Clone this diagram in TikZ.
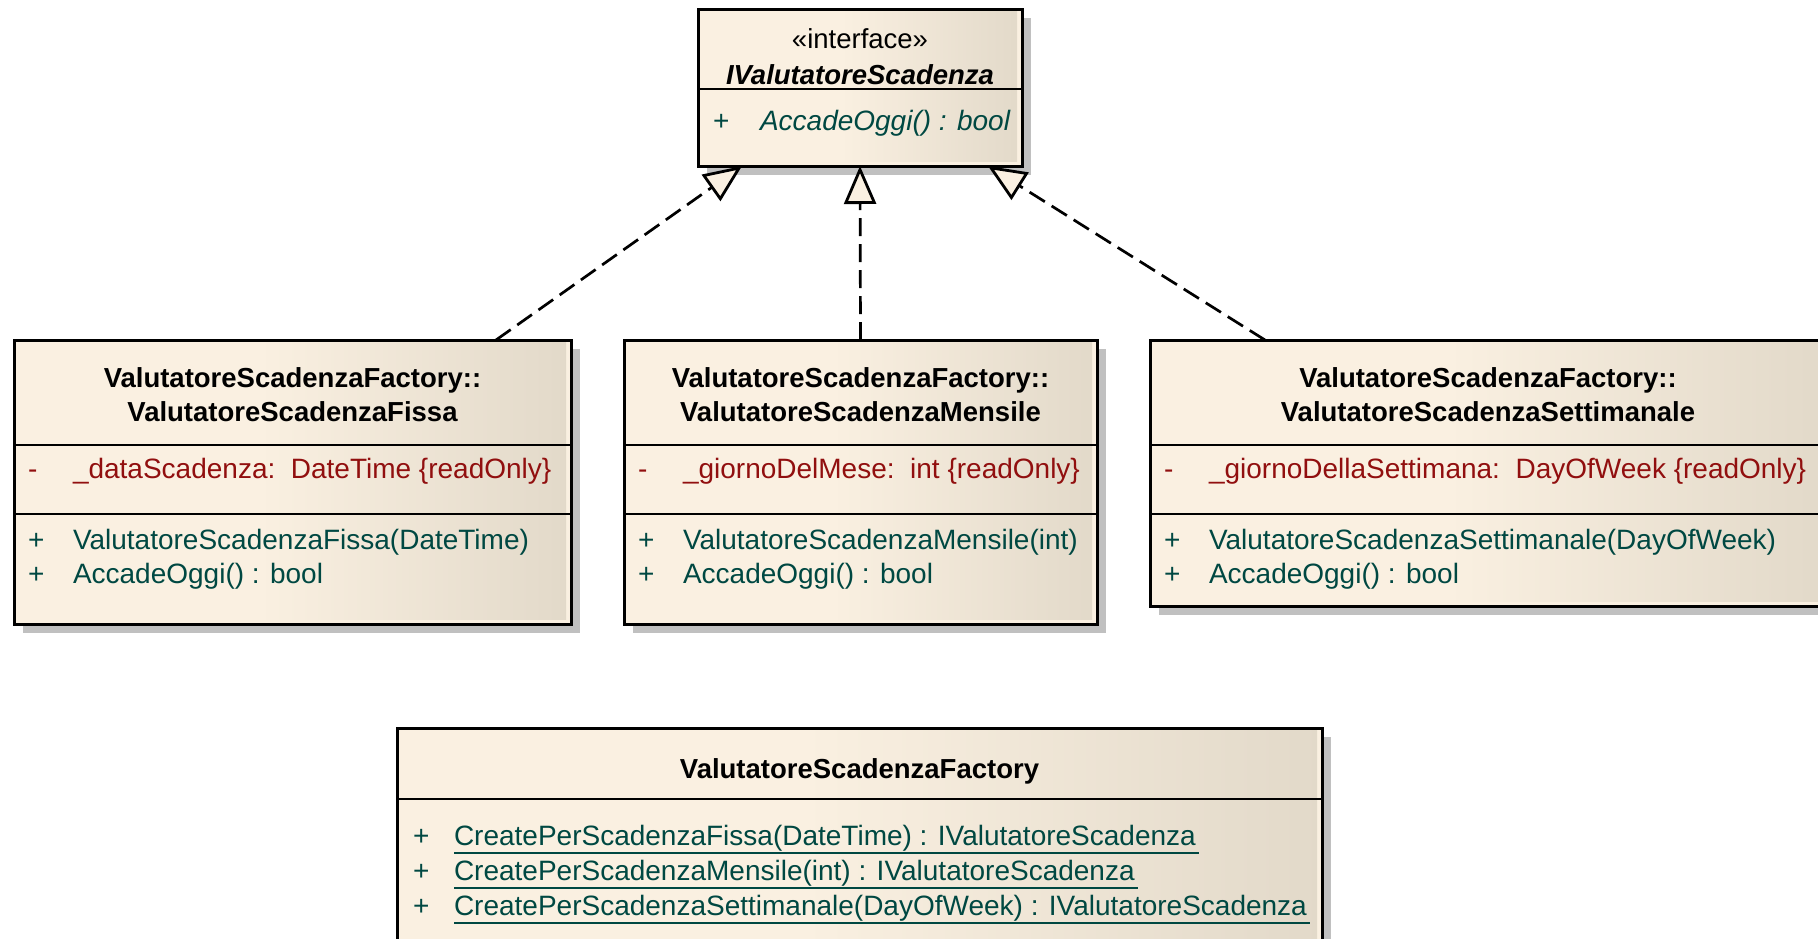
\documentclass[tikz,border=0pt]{standalone}
\usepackage{fontspec}
\setmainfont{Liberation Sans}
\usetikzlibrary{arrows.meta,shadows}

\definecolor{umlA}{RGB}{250,240,225}
\definecolor{umlB}{RGB}{226,217,201}
\definecolor{umlshadow}{RGB}{192,192,192}
\definecolor{attrred}{RGB}{145,15,15}
\definecolor{opteal}{RGB}{0,72,66}

% light cream on the left half, darkening towards the right edge
\pgfdeclarehorizontalshading{umlfill}{100bp}{color(0bp)=(umlA); color(25bp)=(umlA); color(47bp)=(umlA); color(75bp)=(umlB); color(100bp)=(umlB)}

\tikzset{
  classbox/.style={draw=black, line width=3pt, fill=umlA, rectangle, inner sep=0pt, outer sep=0pt, anchor=north west,
    drop shadow={shadow xshift=8.5pt, shadow yshift=-8.5pt, fill=umlshadow, opacity=1},
    path picture={\shade[shading=umlfill] ([xshift=1pt,yshift=-1pt]path picture bounding box.north west) rectangle ([xshift=-5pt,yshift=5pt]path picture bounding box.south east);}},
  divider/.style={draw=black, line width=2.8pt},
  txt/.style={inner sep=0pt, outer sep=0pt, anchor=base west, font=\fontsize{28}{33}\selectfont},
  ttl/.style={inner sep=0pt, outer sep=0pt, anchor=base, font=\fontsize{27.5}{33}\selectfont\bfseries},
  attr/.style={txt, text=attrred},
  oper/.style={txt, text=opteal},
  uline/.style={draw=opteal, line width=2.4pt},
  realize/.style={draw=black, line width=2.7pt, dash pattern=on 18pt off 8pt,
    -{Triangle[length=38pt, width=32pt, fill=umlA, line width=2.8pt]}}
}

\begin{document}
\begin{tikzpicture}[x=1pt, y=-1pt]
\useasboundingbox (0,0) rectangle (1818,938);

% ---------- interface ----------
\node[classbox, minimum width=324pt, minimum height=157pt] (iface) at (698,9) {};
\draw[divider] (iface.west |- 0,89) -- (iface.east |- 0,89);
\node[ttl, font=\fontsize{27.5}{33}\selectfont] (ifst) at (860,48) {«interface»};
\node[ttl, font=\fontsize{27.5}{33}\selectfont\bfseries\itshape] (ifname) at (860,84) {IValutatoreScadenza};
\node[oper] (ifsign) at (713,130) {+};
\node[oper, font=\fontsize{28}{33}\selectfont\itshape] (ifop) at (760,130) {AccadeOggi() : bool};

% ---------- fixed-date evaluator ----------
\node[classbox, minimum width=557pt, minimum height=284pt] (fissa) at (14,340) {};
\draw[divider] (fissa.west |- 0,445) -- (fissa.east |- 0,445);
\draw[divider] (fissa.west |- 0,514) -- (fissa.east |- 0,514);
\node[ttl] (fissaT1) at (292.5,387) {ValutatoreScadenzaFactory::};
\node[ttl] (fissaT2) at (292.5,421) {ValutatoreScadenzaFissa};
\node[attr] (fissaAs) at (28,478) {-};
\node[attr] (fissaA) at (73,478) {\_dataScadenza:\ \ DateTime \{readOnly\}};
\node[oper] (fissaS1) at (28,549) {+};
\node[oper] (fissaM1) at (73,549) {ValutatoreScadenzaFissa(DateTime)};
\node[oper] (fissaS2) at (28,583) {+};
\node[oper] (fissaM2) at (73,583) {AccadeOggi() : bool};

% ---------- monthly evaluator ----------
\node[classbox, minimum width=473pt, minimum height=284pt] (mensile) at (624,340) {};
\draw[divider] (mensile.west |- 0,445) -- (mensile.east |- 0,445);
\draw[divider] (mensile.west |- 0,514) -- (mensile.east |- 0,514);
\node[ttl] (mensT1) at (860.5,387) {ValutatoreScadenzaFactory::};
\node[ttl] (mensT2) at (860.5,421) {ValutatoreScadenzaMensile};
\node[attr] (mensAs) at (638,478) {-};
\node[attr] (mensA) at (683,478) {\_giornoDelMese:\ \ int \{readOnly\}};
\node[oper] (mensS1) at (638,549) {+};
\node[oper] (mensM1) at (683,549) {ValutatoreScadenzaMensile(int)};
\node[oper] (mensS2) at (638,583) {+};
\node[oper] (mensM2) at (683,583) {AccadeOggi() : bool};

% ---------- weekly evaluator ----------
\node[classbox, minimum width=676pt, minimum height=266pt] (sett) at (1150,340) {};
\draw[divider] (sett.west |- 0,445) -- (sett.east |- 0,445);
\draw[divider] (sett.west |- 0,514) -- (sett.east |- 0,514);
\node[ttl] (settT1) at (1488,387) {ValutatoreScadenzaFactory::};
\node[ttl] (settT2) at (1488,421) {ValutatoreScadenzaSettimanale};
\node[attr] (settAs) at (1164,478) {-};
\node[attr] (settA) at (1209,478) {\_giornoDellaSettimana:\ \ DayOfWeek \{readOnly\}};
\node[oper] (settS1) at (1164,549) {+};
\node[oper] (settM1) at (1209,549) {ValutatoreScadenzaSettimanale(DayOfWeek)};
\node[oper] (settS2) at (1164,583) {+};
\node[oper] (settM2) at (1209,583) {AccadeOggi() : bool};

% ---------- factory ----------
\node[classbox, minimum width=925pt, minimum height=222pt] (factory) at (397,728) {};
\draw[divider] (factory.west |- 0,799) -- (factory.east |- 0,799);
\node[ttl] (factT) at (859.5,778) {ValutatoreScadenzaFactory};
\node[oper] (factS1) at (413,845) {+};
\node[oper] (factM1) at (454,845) {CreatePerScadenzaFissa(DateTime) : IValutatoreScadenza};
\node[oper] (factS2) at (413,880) {+};
\node[oper] (factM2) at (454,880) {CreatePerScadenzaMensile(int) : IValutatoreScadenza};
\node[oper] (factS3) at (413,915) {+};
\node[oper] (factM3) at (454,915) {CreatePerScadenzaSettimanale(DayOfWeek) : IValutatoreScadenza};
% static operations are underlined
\draw[uline] ([yshift=-8pt]factM1.base west) -- ([yshift=-8pt,xshift=3pt]factM1.base east);
\draw[uline] ([yshift=-8pt]factM2.base west) -- ([yshift=-8pt,xshift=3pt]factM2.base east);
\draw[uline] ([yshift=-8pt]factM3.base west) -- ([yshift=-8pt,xshift=3pt]factM3.base east);

% ---------- realizations ----------
\draw[realize] ([xshift=203.5pt]fissa.north) -- ([xshift=-118pt]iface.south);
\draw[realize] (mensile.north) -- (iface.south);
\draw[realize] ([xshift=-223pt]sett.north) -- ([xshift=128pt]iface.south);
\end{tikzpicture}
\end{document}
